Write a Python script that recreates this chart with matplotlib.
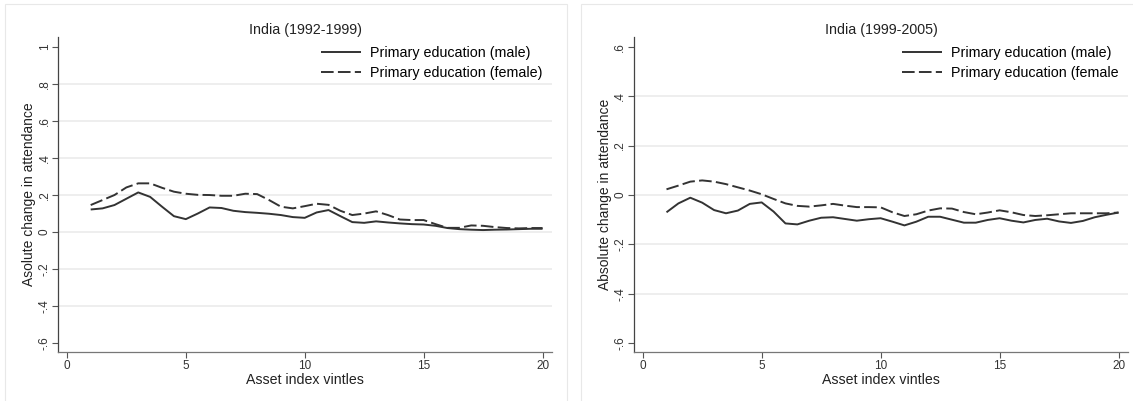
import matplotlib
matplotlib.use("Agg")
import matplotlib.pyplot as plt
from matplotlib.patches import Rectangle

plt.rcParams['font.family'] = ['Liberation Sans', 'DejaVu Sans']

# ---- data ----
x = [1, 1.5, 2, 2.5, 3, 3.5, 4, 4.5, 5, 5.5, 6, 6.5, 7, 7.5, 8, 8.5, 9, 9.5, 10, 10.5,
     11, 11.5, 12, 12.5, 13, 13.5, 14, 14.5, 15, 15.5, 16, 16.5, 17, 17.5, 18, 18.5, 19, 19.5, 20]

male_92_99 = [0.122, 0.128, 0.146, 0.180, 0.214, 0.190, 0.137, 0.086, 0.070, 0.100,
              0.133, 0.130, 0.115, 0.108, 0.104, 0.099, 0.092, 0.081, 0.077, 0.106,
              0.119, 0.086, 0.054, 0.050, 0.058, 0.052, 0.047, 0.043, 0.041, 0.034,
              0.022, 0.016, 0.013, 0.011, 0.013, 0.014, 0.016, 0.018, 0.018]
female_92_99 = [0.146, 0.173, 0.200, 0.241, 0.263, 0.263, 0.239, 0.218, 0.207, 0.201,
                0.200, 0.196, 0.196, 0.207, 0.205, 0.173, 0.137, 0.128, 0.140, 0.153,
                0.147, 0.115, 0.092, 0.100, 0.112, 0.092, 0.068, 0.065, 0.065, 0.043,
                0.023, 0.023, 0.036, 0.034, 0.027, 0.022, 0.020, 0.022, 0.022]

male_99_05 = [-0.070, -0.034, -0.011, -0.031, -0.061, -0.074, -0.063, -0.036, -0.030, -0.067,
              -0.115, -0.119, -0.104, -0.092, -0.090, -0.097, -0.104, -0.098, -0.094, -0.108,
              -0.123, -0.108, -0.088, -0.088, -0.100, -0.112, -0.112, -0.101, -0.094, -0.104,
              -0.111, -0.101, -0.096, -0.107, -0.113, -0.105, -0.090, -0.080, -0.071]
female_99_05 = [0.023, 0.038, 0.054, 0.059, 0.054, 0.044, 0.031, 0.018, 0.003, -0.016,
                -0.034, -0.044, -0.047, -0.042, -0.036, -0.043, -0.049, -0.049, -0.050, -0.070,
                -0.085, -0.078, -0.063, -0.054, -0.055, -0.069, -0.078, -0.071, -0.062, -0.070,
                -0.081, -0.085, -0.082, -0.078, -0.074, -0.074, -0.074, -0.074, -0.071]

xticks = [0, 5, 10, 15, 20]
yticks_left = [-0.6, -0.4, -0.2, 0, 0.2, 0.4, 0.6, 0.8, 1.0]
ylabels_left = ['-.6', '-.4', '-.2', '0', '.2', '.4', '.6', '.8', '1']
yticks_right = [-0.6, -0.4, -0.2, 0, 0.2, 0.4, 0.6]
ylabels_right = ['-.6', '-.4', '-.2', '0', '.2', '.4', '.6']

titles = ['India (1992-1999)', 'India (1999-2005)']
ylabels = ['Asolute change in attendance', 'Absolute change in attendance']
xlabel = 'Asset index vintles'
leg_left = ['Primary education (male)', 'Primary education (female)']
leg_right = ['Primary education (male)', 'Primary education (female']

W, H = 1133, 401
fig = plt.figure(figsize=(W / 100, H / 100), dpi=100)
fig.patch.set_facecolor('white')

# panel frames
frame_col = '#e8e8e8'
fig.add_artist(Rectangle((5 / W, -0.01), (566.5 - 5) / W, 1 - 4 / H + 0.01,
                         transform=fig.transFigure, fill=False, ec=frame_col, lw=0.8))
fig.add_artist(Rectangle((581 / W, -0.01), (W + 5 - 581) / W, 1 - 4 / H + 0.01,
                         transform=fig.transFigure, fill=False, ec=frame_col, lw=0.8))

bottom = 1 - 351.7 / H
top = 1 - 37.3 / H
axL = fig.add_axes([58.2 / W, bottom, (552.3 - 58.2) / W, top - bottom])
axR = fig.add_axes([634.0 / W, bottom, (1128.3 - 634.0) / W, top - bottom])

line_col = '#333333'
dash = (6.5, 2.2)

def style(ax, yticks, ylabs, ylim, title, ylab, male, female, labels, lx):
    ax.set_facecolor('none')
    for yt in yticks[1:-1]:
        ax.axhline(yt, color='#eaeaea', lw=1.1, zorder=0)
    ax.plot(x, male, color=line_col, lw=1.4, solid_capstyle='butt',
            solid_joinstyle='round', label=labels[0])
    ax.plot(x, female, color=line_col, lw=1.4, dashes=dash,
            dash_joinstyle='round', label=labels[1])
    ax.set_xlim(-0.366, 20.41)
    ax.set_ylim(*ylim)
    ax.set_xticks(xticks)
    ax.set_xticklabels([str(t) for t in xticks])
    ax.set_yticks(yticks)
    ax.set_yticklabels(ylabs, rotation=90, va='center')
    for s in ['top', 'right']:
        ax.spines[s].set_visible(False)
    ax.spines['left'].set_color('#444444')
    ax.spines['bottom'].set_color('#777777')
    ax.spines['left'].set_linewidth(0.9)
    ax.spines['bottom'].set_linewidth(0.9)
    ax.tick_params(axis='both', direction='out', length=4, width=0.8, color='#555555',
                   labelsize=8.5, labelcolor='#333333', pad=2)
    ax.tick_params(axis='y', pad=1.5)
    ax.set_title(title, fontsize=10.3, color='#222222', pad=2.5)
    ax.set_xlabel(xlabel, fontsize=10.2, color='#222222', labelpad=0.5)
    ax.set_ylabel(ylab, fontsize=10, color='#222222', labelpad=1.5)
    ax.legend(loc='upper left', bbox_to_anchor=(lx, 0.973), frameon=False,
              fontsize=10.3, handlelength=2.8, handletextpad=0.63, labelspacing=0.43,
              borderpad=0, borderaxespad=0)

style(axL, yticks_left, ylabels_left, (-0.645, 1.0507), titles[0], ylabels[0],
      male_92_99, female_92_99, leg_left, (320.6 - 58.2) / 494.1)
style(axR, yticks_right, ylabels_right, (-0.634, 0.638), titles[1], ylabels[1],
      male_99_05, female_99_05, leg_right, (901.6 - 634.0) / 494.3)

fig.savefig('out.png', dpi=100, facecolor='white')
